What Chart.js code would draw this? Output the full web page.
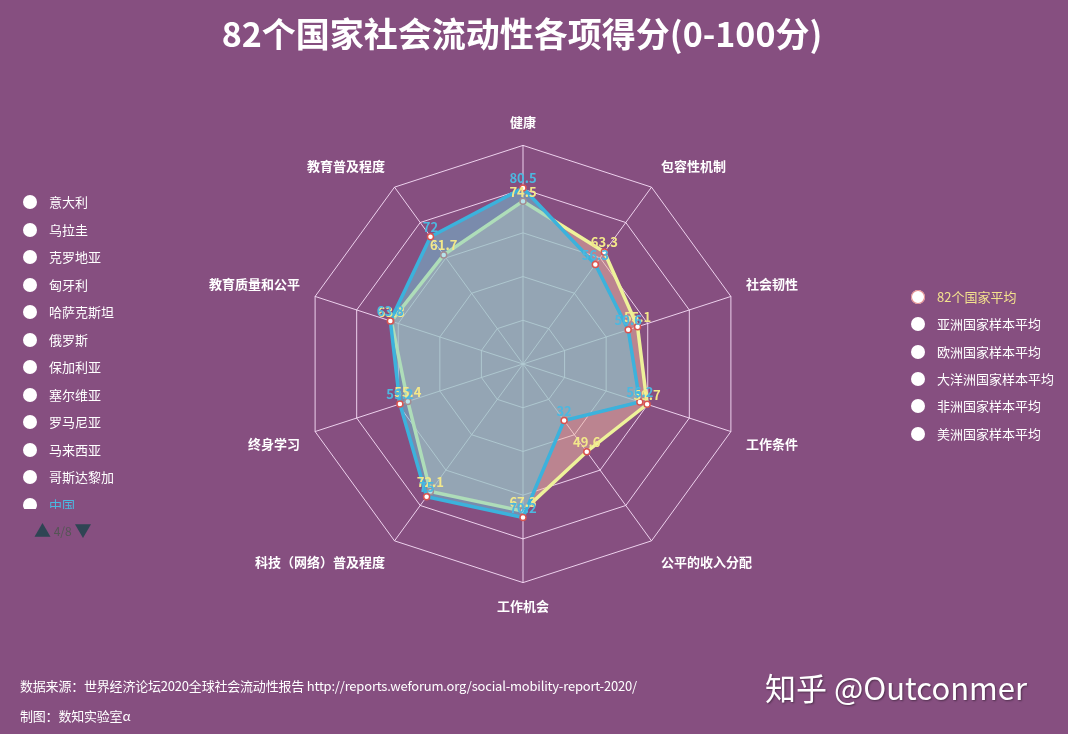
<!DOCTYPE html>
<html>
<head>
<meta charset="utf-8">
<script src="https://cdn.jsdelivr.net/npm/chart.js@4.4.1/dist/chart.umd.min.js"></script>
<style>
  html, body { margin: 0; padding: 0; background: #864f80; }
  #wrap { position: relative; width: 1068px; height: 734px; overflow: hidden;
          font-family: "Noto Sans CJK SC", "Noto Sans", sans-serif; }
  #radarChart { position: absolute; left: 0; top: 0; }
  .legend { position: absolute; }
  .item { position: absolute; left: 0; height: 20px; line-height: 20px; font-size: 13px; color: #fff; white-space: nowrap; }
  .item i { position: absolute; left: 0; top: 3px; width: 14px; height: 14px; border-radius: 50%; background: #fff; }
  .item span { position: absolute; left: 26px; }
  #pager { position: absolute; left: 34px; top: 517px; font-size: 12px; color: #555; white-space: nowrap; }
  #pager b { color: #2f4554; font-size: 17px; font-weight: normal; vertical-align: -1px; }
  .foot { position: absolute; left: 20px; font-size: 13px; color: #fff; white-space: nowrap; letter-spacing: -0.2px; }
  #mark { position: absolute; left: 765px; top: 664px; font-size: 31px; color: #fff; white-space: nowrap;
          text-shadow: 1px 1px 2px rgba(0,0,0,0.4); }
</style>
</head>
<body>
<div id="wrap">
  <canvas id="radarChart" width="1068" height="734"></canvas>
  <div class="legend" id="leftLegend" style="left:23px; top:0; width:150px; height:509px; overflow:hidden;"></div>
  <div id="pager"><b>▲</b> 4/8 <b>▼</b></div>
  <div class="legend" id="rightLegend" style="left:911px; top:0; width:157px; height:460px;"></div>
  <div class="foot" style="top:676px;">数据来源：世界经济论坛2020全球社会流动性报告 http://reports.weforum.org/social-mobility-report-2020/</div>
  <div class="foot" style="top:706px;">制图：数知实验室α</div>
  <div id="mark">知乎 @Outconmer</div>
</div>
<script>
// pillars, clockwise from the top
const pillars = ['健康', '包容性机制', '社会韧性', '工作条件', '公平的收入分配',
                 '工作机会', '科技（网络）普及程度', '终身学习', '教育质量和公平', '教育普及程度'];

// 82个国家平均
const avgScores = [74.5, 63.3, 55.1, 59.7, 49.6, 67.3, 72.1, 55.4, 63.3, 61.7];
// 中国
const chinaScores = [80.5, 56.3, 50.6, 56.2, 32, 70.2, 75.0, 59.2, 63.8, 72];

const leftLegendNames = ['意大利', '乌拉圭', '克罗地亚', '匈牙利', '哈萨克斯坦', '俄罗斯',
                         '保加利亚', '塞尔维亚', '罗马尼亚', '马来西亚', '哥斯达黎加', '中国'];
const rightLegendNames = ['82个国家平均', '亚洲国家样本平均', '欧洲国家样本平均',
                          '大洋洲国家样本平均', '非洲国家样本平均', '美洲国家样本平均'];

// build the two html legends
function buildLegend(el, names, firstY, step, colors) {
    names.forEach((name, i) => {
        const d = document.createElement('div');
        d.className = 'item';
        d.style.top = (firstY + i * step - 10) + 'px';
        d.innerHTML = '<i></i><span>' + name + '</span>';
        if (colors[name]) d.querySelector('span').style.color = colors[name];
        el.appendChild(d);
    });
}
buildLegend(document.getElementById('leftLegend'), leftLegendNames, 202, 27.5, { '中国': '#4cb8e0' });
buildLegend(document.getElementById('rightLegend'), rightLegendNames, 297, 27.3, { '82个国家平均': '#f3e28e' });
document.querySelector('#rightLegend .item i').style.boxShadow = '0 0 0 1px #e58a8a inset';

// value text above every point
const valueLabels = {
    id: 'valueLabels',
    afterDatasetsDraw(chart) {
        const ctx = chart.ctx;
        for (let i = chart.data.datasets.length - 1; i >= 0; i--) {
            const ds = chart.data.datasets[i];
            const meta = chart.getDatasetMeta(i);
            ctx.save();
            ctx.font = 'bold 13px "Noto Sans CJK SC", sans-serif';
            ctx.fillStyle = ds.textColor;
            ctx.textAlign = 'center';
            ctx.textBaseline = 'bottom';
            meta.data.forEach((pt, j) => ctx.fillText(ds.data[j], pt.x, pt.y - 3));
            ctx.restore();
        }
    }
};

Chart.defaults.font.family = '"Noto Sans CJK SC", "Noto Sans", sans-serif';

new Chart(document.getElementById('radarChart'), {
    type: 'radar',
    data: {
        labels: pillars,
        datasets: [
            {
                label: '中国',
                data: chinaScores,
                textColor: '#4cb8e0',
                borderColor: '#3cb2dc',
                backgroundColor: 'rgba(110, 200, 215, 0.5)',
                borderWidth: 3.5,
                pointRadius: 3,
                pointBorderWidth: 1.5,
                pointBackgroundColor: '#fff',
                pointBorderColor: '#d9534f',
                fill: true
            },
            {
                label: '82个国家平均',
                data: avgScores,
                textColor: '#f3e88a',
                borderColor: '#eef29a',
                backgroundColor: 'rgba(240, 185, 160, 0.5)',
                borderWidth: 3.5,
                pointRadius: 3,
                pointBorderWidth: 1.5,
                pointBackgroundColor: '#fff',
                pointBorderColor: '#d9534f',
                fill: true
            }
        ]
    },
    options: {
        responsive: false,
        animation: false,
        layout: { padding: { top: 0, bottom: 118, left: 180, right: 204 } },
        plugins: {
            legend: { display: false },
            tooltip: { enabled: false },
            title: {
                display: true,
                text: '82个国家社会流动性各项得分(0-100分)',
                color: '#fff',
                font: { size: 34, weight: 'bold' },
                padding: { top: 14, bottom: 59 }
            }
        },
        scales: {
            r: {
                min: 0,
                max: 100,
                ticks: { display: false, stepSize: 20 },
                grid: { color: 'rgba(255, 232, 255, 0.85)', lineWidth: 1 },
                angleLines: { color: 'rgba(255, 232, 255, 0.85)', lineWidth: 1 },
                pointLabels: {
                    color: '#fff',
                    padding: 16,
                    font: { size: 13, weight: 'bold' }
                }
            }
        }
    },
    plugins: [valueLabels]
});
</script>
</body>
</html>
